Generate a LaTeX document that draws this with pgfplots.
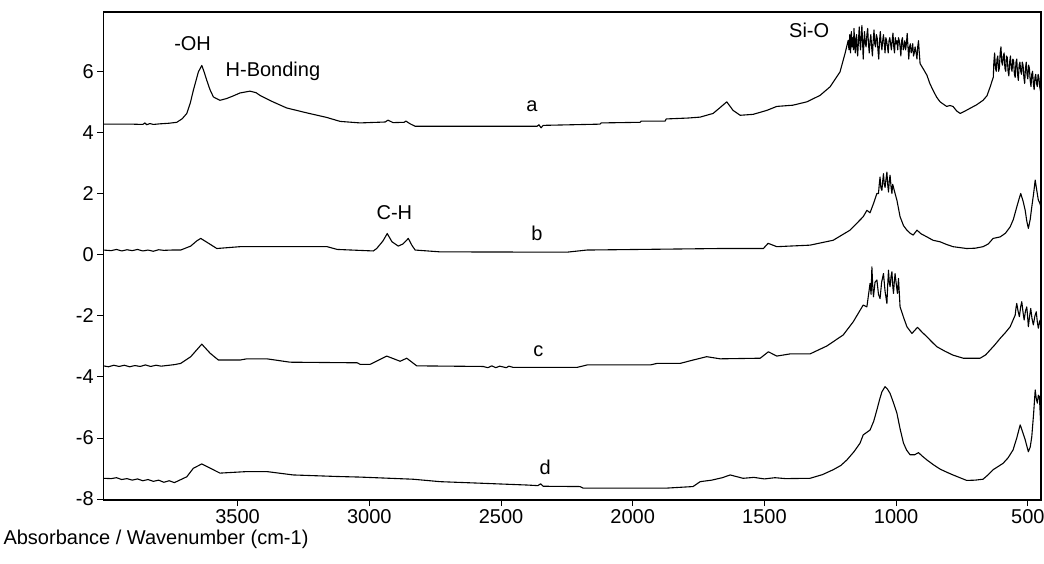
\documentclass[border=0pt]{standalone}
\usepackage{pgfplots}
\pgfplotsset{compat=1.18}
\usepackage{fontspec}
\setmainfont{Liberation Sans}
\newcommand{\lf}{\fontsize{20}{24}\selectfont}
\begin{document}
\begin{tikzpicture}[x=1pt,y=1pt]
\path[use as bounding box] (0,0) rectangle (1044,563);
\begin{axis}[
  at={(103.3pt,63pt)}, anchor=south west, scale only axis,
  width=937.7pt, height=488pt,
  xmin=450, xmax=4010, ymin=-8.03, ymax=7.94,
  x dir=reverse,
  xtick={500,1000,1500,2000,2500,3000,3500},
  xticklabels={500,1000,1500,2000,2500,3000,3500},
  ytick={-8,-6,-4,-2,0,2,4,6},
  yticklabels={-8,-6,-4,-2,0,2,4,6},
  tick align=outside, xtick pos=lower, ytick pos=left,
  major tick length=6pt,
  tick style={black, line width=0.8pt},
  axis line style={line width=1.1pt},
  ticklabel style={font=\lf},
  clip=true,
]
% a
\addplot[black, no marks, line width=1.1pt, line join=round] coordinates {
(4010,4.27)(3900,4.27)(3860,4.26)(3852,4.31)(3845,4.25)(3833,4.29)(3820,4.26)(3795,4.28)(3760,4.30)(3731,4.33)
(3710,4.45)(3693,4.62)(3680,4.95)(3668,5.38)(3649,5.98)(3636,6.19)(3628,6.0)(3617,5.70)(3605,5.40)(3592,5.16)
(3567,5.05)(3541,5.11)(3515,5.20)(3491,5.29)(3453,5.35)(3430,5.30)(3415,5.21)(3390,5.10)(3366,5.00)(3314,4.80)
(3238,4.64)(3162,4.49)(3111,4.36)(3035,4.31)(2940,4.34)(2929,4.40)(2910,4.32)(2868,4.33)(2861,4.37)(2845,4.28)
(2826,4.20)(2363,4.20)(2356,4.25)(2348,4.15)(2340,4.23)(2124,4.27)(2120,4.31)(1972,4.33)(1968,4.37)(1877,4.37)
(1873,4.44)(1790,4.47)(1744,4.50)(1695,4.62)(1670,4.80)(1643,5.00)(1619,4.72)(1592,4.56)(1543,4.59)(1491,4.72)
(1453,4.85)(1392,4.89)(1339,5.00)(1289,5.21)(1251,5.49)(1213,5.98)(1194,6.58)
(1182,7.01)(1179,6.7)(1176,7.2)(1173,6.6)(1170,7.3)(1167,6.8)(1165,7.1)(1162,6.7)(1160,7.4)(1157,6.9)(1155,6.6)(1152,7.1)(1150,7.2)(1148,6.7)(1146,6.5)(1143,7.0)
(1140,7.45)(1137,6.9)(1135,6.7)(1132,7.2)(1130,7.5)(1127,6.9)(1125,6.4)(1122,7.0)(1120,7.3)(1117,6.9)(1114,6.8)(1111,7.2)(1108,7.4)(1105,6.9)(1102,6.6)(1099,7.0)
(1096,7.2)(1093,6.8)(1090,6.5)(1087,7.0)(1084,7.35)(1081,6.9)(1078,6.8)(1075,7.2)(1072,7.1)(1069,6.7)(1066,6.4)(1063,7.0)(1060,7.3)(1057,6.9)(1054,6.7)(1051,7.0)
(1048,7.2)(1045,6.9)(1042,6.6)(1039,7.1)(1036,7.0)(1033,6.8)(1030,6.6)(1027,7.0)(1024,7.1)(1021,6.9)(1018,6.7)(1015,7.0)(1012,7.25)(1009,6.8)(1006,6.6)(1003,7.1)
(1000,6.9)(997,7.0)(994,6.7)(991,7.1)(988,7.0)(985,6.8)(982,6.5)(979,7.0)(976,7.1)(973,6.7)(970,6.8)(967,7.0)(964,6.7)(961,6.9)(958,7.24)(955,6.8)
(952,6.4)(949,6.8)(946,6.9)(943,6.6)(940,6.7)(937,6.9)(934,6.5)(931,6.6)(928,6.8)(924,6.6)(921,6.4)(918,6.8)(915,7.0)(912,6.6)(909,6.25)
(895,6.05)(883,5.87)(872,5.6)(860,5.38)(846,5.15)(833,5.00)(820,4.92)(808,4.85)(796,4.88)(784,4.85)(770,4.70)(757,4.62)(738,4.70)(719,4.79)(695,4.90)(670,5.05)(655,5.20)(643,5.49)(631,5.81)
(629,6.3)(626,6.6)(623,6.1)(620,6.0)(617,6.4)(614,6.5)(611,6.0)(608,6.1)(605,6.6)(602,6.8)(599,6.3)(596,6.2)(593,6.5)(590,6.6)(587,6.1)(584,6.0)(581,6.5)(578,6.45)(575,6.0)(572,5.85)
(569,6.3)(566,6.5)(563,6.1)(560,6.0)(557,6.4)(554,6.35)(551,5.9)(548,5.8)(545,6.3)(542,6.4)(539,5.9)(536,5.7)(533,6.2)(530,6.3)(527,6.0)(524,5.9)(521,6.3)(518,6.2)(515,5.8)(512,5.6)
(509,6.1)(506,6.3)(503,5.9)(500,5.75)(497,6.2)(494,6.1)(491,5.7)(488,5.5)(485,5.9)(482,6.0)(479,5.6)(476,5.4)(473,5.8)(470,5.9)(467,5.6)(464,5.5)(461,5.9)(458,5.8)(455,5.5)(452,5.35)(450,5.6)
};
% b
\addplot[black, no marks, line width=1.1pt, line join=round] coordinates {
(4010,0.15)(3980,0.13)(3960,0.17)(3940,0.12)(3920,0.16)(3900,0.13)(3880,0.17)(3860,0.12)(3840,0.15)(3820,0.11)
(3800,0.16)(3780,0.14)(3750,0.15)(3716,0.15)(3678,0.28)(3655,0.45)(3640,0.53)(3612,0.38)(3579,0.20)(3491,0.26)
(3160,0.26)(3122,0.17)(2985,0.12)(2972,0.20)(2948,0.45)(2932,0.69)(2914,0.42)(2890,0.28)(2872,0.35)(2852,0.53)
(2838,0.30)(2826,0.15)(2731,0.09)(2250,0.08)(2174,0.15)(1668,0.20)(1504,0.20)(1486,0.37)(1453,0.26)(1327,0.31)
(1239,0.47)(1175,0.80)(1125,1.24)(1111,1.45)(1099,1.37)(1086,1.67)(1073,2.0)
(1067,2.0)(1064,2.3)(1061,2.54)(1058,2.2)(1054,2.1)(1051,2.4)(1048,2.65)(1045,2.3)(1042,2.2)(1038,2.5)(1035,2.7)(1032,2.3)(1029,2.05)(1026,2.4)(1023,2.6)(1019,2.2)(1016,2.0)(1013,2.3)(1010,2.2)(1004,2.0)(997,1.78)
(985,1.24)(972,0.95)(959,0.80)(947,0.70)(935,0.64)(921,0.80)(905,0.68)(883,0.58)(860,0.47)(833,0.42)(808,0.33)(784,0.26)(732,0.20)(700,0.21)(670,0.26)
(650,0.35)(632,0.53)(605,0.58)(585,0.70)(567,0.91)(555,1.15)(542,1.56)(534,1.8)(527,2.0)(518,1.75)(510,1.45)(504,1.1)(498,0.86)(491,1.15)(485,1.56)(478,2.0)(472,2.44)(466,2.1)(460,1.78)(455,1.7)(450,1.56)
};
% c
\addplot[black, no marks, line width=1.1pt, line join=round] coordinates {
(4010,-3.64)(3990,-3.67)(3970,-3.62)(3950,-3.66)(3930,-3.62)(3910,-3.67)(3890,-3.63)(3870,-3.66)(3850,-3.61)(3830,-3.66)
(3810,-3.62)(3790,-3.65)(3760,-3.62)(3740,-3.60)(3716,-3.56)(3678,-3.34)(3636,-2.93)(3604,-3.23)(3573,-3.45)(3491,-3.45)
(3465,-3.41)(3389,-3.41)(3301,-3.52)(3046,-3.54)(3035,-3.59)(2997,-3.59)(2934,-3.32)(2883,-3.49)(2858,-3.39)(2820,-3.64)
(2568,-3.66)(2550,-3.70)(2535,-3.64)(2520,-3.70)(2505,-3.65)(2480,-3.70)(2470,-3.65)(2454,-3.69)(2211,-3.69)(2173,-3.61)
(1933,-3.61)(1908,-3.56)(1820,-3.56)(1771,-3.45)(1719,-3.34)(1668,-3.41)(1516,-3.39)(1485,-3.18)(1453,-3.32)(1403,-3.25)
(1327,-3.25)(1263,-2.99)(1201,-2.63)(1163,-2.20)(1125,-1.65)(1111,-1.71)
(1099,-0.94)(1095,-1.3)(1092,-0.40)(1089,-1.0)(1086,-1.38)(1080,-0.9)(1073,-0.83)(1067,-1.3)(1061,-1.44)(1055,-0.9)(1048,-0.62)(1042,-1.2)(1035,-1.6)(1032,-1.0)(1029,-0.51)(1026,-0.9)(1023,-1.05)(1019,-0.7)(1016,-0.56)
(1013,-1.0)(1010,-1.27)(1007,-0.9)(1004,-0.62)(999,-1.0)(995,-1.27)(991,-0.78)(985,-1.71)
(972,-2.05)(959,-2.36)(940,-2.58)(919,-2.38)(900,-2.55)(883,-2.69)(865,-2.85)(846,-3.01)(815,-3.16)(784,-3.29)(745,-3.39)(681,-3.39)(660,-3.28)(643,-3.12)(625,-2.95)(605,-2.74)(585,-2.55)(567,-2.36)
(548,-1.98)(545,-1.75)(542,-1.60)(537,-1.85)(532,-2.03)(527,-1.7)(523,-1.54)(518,-1.9)(514,-2.14)(509,-1.85)(504,-1.71)(501,-2.0)(498,-2.36)(493,-2.0)(489,-1.76)(484,-2.1)(479,-2.30)(473,-2.0)(468,-1.87)(464,-2.2)(460,-2.41)(456,-2.2)(453,-2.14)(450,-2.47)
};
% d
\addplot[black, no marks, line width=1.1pt, line join=round] coordinates {
(4010,-7.32)(3980,-7.33)(3960,-7.30)(3940,-7.36)(3920,-7.33)(3900,-7.38)(3880,-7.34)(3860,-7.40)(3840,-7.36)(3820,-7.42)
(3800,-7.38)(3780,-7.45)(3760,-7.40)(3740,-7.46)(3720,-7.38)(3693,-7.27)(3668,-6.99)(3636,-6.85)(3604,-6.99)(3567,-7.15)
(3465,-7.10)(3389,-7.10)(3289,-7.21)(3124,-7.26)(3035,-7.28)(2834,-7.35)(2731,-7.43)(2579,-7.48)(2401,-7.54)(2360,-7.56)
(2350,-7.50)(2340,-7.58)(2200,-7.59)(2189,-7.64)(1870,-7.64)(1771,-7.59)(1744,-7.43)(1700,-7.38)(1660,-7.30)(1630,-7.21)
(1581,-7.32)(1540,-7.29)(1500,-7.34)(1460,-7.30)(1420,-7.33)(1327,-7.32)(1280,-7.20)(1239,-7.04)(1210,-6.90)(1187,-6.72)(1160,-6.45)(1137,-6.17)(1125,-5.90)
(1099,-5.74)(1085,-5.45)(1073,-5.08)(1063,-4.75)(1054,-4.49)(1042,-4.32)(1033,-4.40)(1023,-4.54)(1010,-4.85)(997,-5.19)(985,-5.70)(972,-6.17)(960,-6.40)(947,-6.55)(930,-6.55)(915,-6.48)(900,-6.60)(883,-6.72)
(858,-6.88)(833,-7.02)(808,-7.12)(784,-7.21)(758,-7.30)(732,-7.39)(700,-7.38)(670,-7.35)(650,-7.20)(632,-7.04)(594,-6.83)(575,-6.65)(556,-6.39)(542,-6.00)(529,-5.57)(520,-5.80)(510,-6.06)(498,-6.45)
(491,-6.3)(485,-5.96)(478,-5.2)(472,-4.43)(468,-4.70)(464,-4.86)(460,-4.60)(456,-4.65)(453,-5.2)(450,-5.74)
};
\node[font=\lf, anchor=base] at (axis cs:3671,6.69) {-OH};
\node[font=\lf, anchor=base] at (axis cs:3366,5.84) {H-Bonding};
\node[font=\lf, anchor=base] at (axis cs:2905,1.15) {C-H};
\node[font=\lf, anchor=base] at (axis cs:1330,7.12) {Si-O};
\node[font=\lf, anchor=base] at (axis cs:2383,4.67) {a};
\node[font=\lf, anchor=base] at (axis cs:2364,0.45) {b};
\node[font=\lf, anchor=base] at (axis cs:2358,-3.32) {c};
\node[font=\lf, anchor=base] at (axis cs:2332,-7.21) {d};
\end{axis}
\node[font=\lf, anchor=base west] at (0,19) {Absorbance / Wavenumber (cm-1)};
\end{tikzpicture}
\end{document}
